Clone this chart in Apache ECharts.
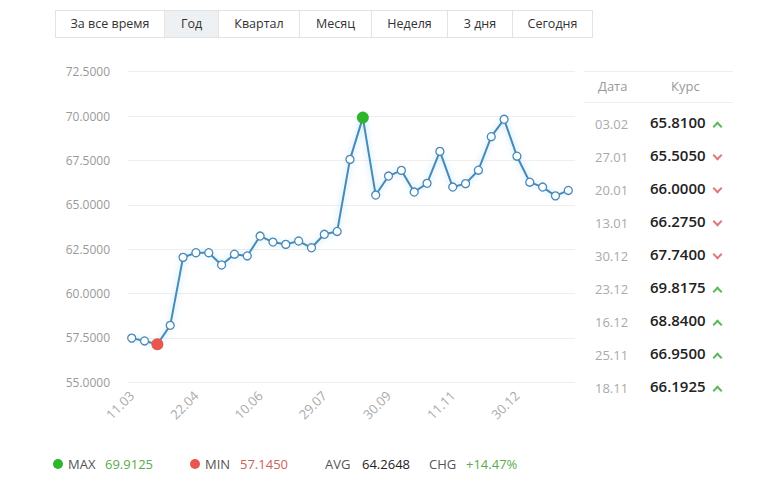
<!DOCTYPE html>
<html><head><meta charset="utf-8">
<script src="https://cdn.jsdelivr.net/npm/echarts@6/dist/echarts.min.js"></script>
<style>
html,body{margin:0;padding:0;background:#fff;font-family:'Open Sans',sans-serif;}
#wrap{position:relative;width:774px;height:484px;overflow:hidden;}
#chart{position:absolute;left:0;top:0;width:774px;height:484px;}
#btns{position:absolute;left:55px;top:10px;height:28px;display:flex;border:1px solid #e3e3e3;box-sizing:border-box;}
#btns div{height:26px;line-height:26px;font-size:12.5px;color:#333;text-align:center;border-left:1px solid #e3e3e3;box-sizing:border-box;}
#btns div:first-child{border-left:none;}
#btns div.act{background:#eef1f4;}
#tbl{position:absolute;left:584px;top:71px;width:149px;height:340px;}
.hl{position:absolute;left:0;width:149px;height:1px;background:#eee;}
.th{position:absolute;font-size:13px;color:#999;}
.rd{position:absolute;font-size:13px;color:#aaa;left:11px;}
.rv{position:absolute;font-size:15px;font-weight:600;color:#222;left:66px;}
.ar{position:absolute;left:130px;width:5px;height:5px;border-style:solid;border-width:2px 0 0 2px;}
.up{border-color:#5cb85c;transform:rotate(45deg);}
.dn{border-color:#e07a7a;transform:rotate(225deg);}
#stats{position:absolute;left:0;top:454px;height:20px;width:774px;font-size:13px;}
#stats span{position:absolute;top:0;line-height:20px;white-space:nowrap;}
.dot{width:10px;height:10px;border-radius:5px;top:5px !important;}
</style></head>
<body><div id="wrap"><div id="chart"></div><div id="btns"></div><div id="tbl"></div><div id="stats"></div></div>
<script>
// ---- data ----
var categories = ['11.03','18.03','25.03','01.04','15.04','22.04','29.04','13.05','20.05','27.05',
  '10.06','17.06','24.06','01.07','15.07','29.07','12.08','19.08','26.08','09.09',
  '30.09','07.10','14.10','21.10','28.10','11.11','18.11','25.11','16.12','23.12',
  '30.12','13.01','20.01','27.01','03.02'];
var rates = [57.49,57.33,57.145,58.21,62.04,62.30,62.30,61.61,62.22,62.12,
  63.24,62.90,62.77,62.96,62.58,63.34,63.50,67.56,69.9125,65.55,
  66.62,66.94,65.72,66.21,68.01,66.00,66.1925,66.95,68.84,69.8175,
  67.74,66.275,66.00,65.505,65.81];
var yTicks = {min:55, max:72.5, step:2.5};
var buttons = ['За все время','Год','Квартал','Месяц','Неделя','3 дня','Сегодня'];
var buttonWidths = [108,54,81,72,76,65,80];
var activeButton = 'Год';
var tableDates = ['03.02','27.01','20.01','13.01','30.12','23.12','16.12','25.11','18.11'];
var tableRates = ['65.8100','65.5050','66.0000','66.2750','67.7400','69.8175','68.8400','66.9500','66.1925'];
var tableDir = ['up','dn','dn','dn','dn','up','up','up','up'];
var statLabels = ['MAX','MIN','AVG','CHG'];
var statValues = ['69.9125','57.1450','64.2648','+14.47%'];

// ---- buttons ----
var b = document.getElementById('btns');
buttons.forEach(function(t,i){
  var d=document.createElement('div'); d.textContent=t; d.style.width=buttonWidths[i]+'px';
  if(t===activeButton) d.className='act'; b.appendChild(d);
});
// ---- table ----
var tb = document.getElementById('tbl');
var h='<div class="hl" style="top:0"></div><div class="hl" style="top:31px"></div>'+
  '<div class="th" style="left:14px;top:6px">Дата</div><div class="th" style="left:87px;top:6px">Курс</div>';
tableDates.forEach(function(d,i){
  var y=43+i*33;
  h+='<div class="rd" style="top:'+(y+1)+'px">'+d+'</div>';
  h+='<div class="rv" style="top:'+(y-2)+'px">'+tableRates[i]+'</div>';
  h+='<div class="ar '+tableDir[i]+'" style="top:'+(y+(tableDir[i]==='up'?9:5))+'px"></div>';
});
tb.innerHTML=h;
// ---- stats ----
var st=document.getElementById('stats');
st.innerHTML=
 '<span class="dot" style="left:53px;background:#2db52d"></span>'+
 '<span style="left:68px;color:#555">'+statLabels[0]+'</span>'+
 '<span style="left:105px;color:#5aab4a">'+statValues[0]+'</span>'+
 '<span class="dot" style="left:190px;background:#e8574f"></span>'+
 '<span style="left:205px;color:#555">'+statLabels[1]+'</span>'+
 '<span style="left:240px;color:#c8625c">'+statValues[1]+'</span>'+
 '<span style="left:325px;color:#555">'+statLabels[2]+'</span>'+
 '<span style="left:362px;color:#222">'+statValues[2]+'</span>'+
 '<span style="left:429px;color:#555">'+statLabels[3]+'</span>'+
 '<span style="left:466px;color:#5aab4a">'+statValues[3]+'</span>';

// ---- chart ----
var maxI=0,minI=0;
rates.forEach(function(v,i){ if(v>rates[maxI])maxI=i; if(v<rates[minI])minI=i; });
var seriesData = rates.map(function(v,i){
  if(i===maxI) return {value:v,symbolSize:12,itemStyle:{color:'#2db52d',borderColor:'#2db52d',borderWidth:0}};
  if(i===minI) return {value:v,symbolSize:12,itemStyle:{color:'#e8574f',borderColor:'#e8574f',borderWidth:0}};
  return v;
});
var chart = echarts.init(document.getElementById('chart'), null, {renderer:'svg'});
chart.setOption({
  animation:false,
  grid:[{left:128,top:71.7,width:447,height:310.6},{left:131.7,top:71.7,width:436.6,height:310.6}],
  xAxis:[
    {gridIndex:0,type:'value',show:false,min:0,max:1},
    {gridIndex:1,type:'category',data:categories,boundaryGap:false,
     axisLine:{show:false},axisTick:{show:false},
     axisLabel:{interval:4,rotate:45,color:'#aaa',fontSize:13,fontFamily:'Open Sans',margin:11}}
  ],
  yAxis:[
    {gridIndex:0,type:'value',min:yTicks.min,max:yTicks.max,interval:yTicks.step,
     axisLine:{show:false},axisTick:{show:false},
     splitLine:{lineStyle:{color:'#efefef',width:1}},
     axisLabel:{color:'#999',fontSize:12,fontFamily:'Open Sans',margin:18,formatter:function(v){return v.toFixed(4);}}},
    {gridIndex:1,type:'value',min:yTicks.min,max:yTicks.max,interval:yTicks.step,show:false,splitLine:{show:false}}
  ],
  series:[{type:'line',xAxisIndex:1,yAxisIndex:1,data:seriesData,
    symbol:'circle',symbolSize:8,showAllSymbol:true,
    lineStyle:{color:'#4a89b6',width:2,shadowColor:'rgba(110,200,240,0.6)',shadowBlur:6},
    itemStyle:{color:'#fff',borderColor:'#4a89b6',borderWidth:1.3}
  }]
});
</script></body></html>
